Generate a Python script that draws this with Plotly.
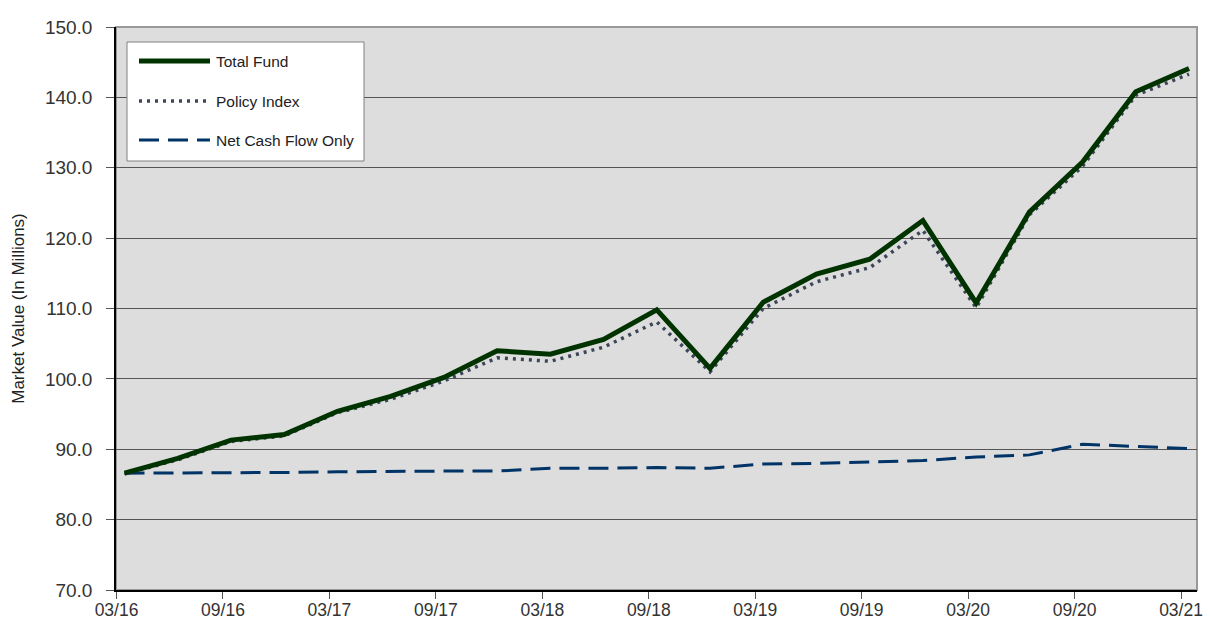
import plotly.graph_objects as go

quarters = ["03/16", "06/16", "09/16", "12/16", "03/17", "06/17", "09/17", "12/17",
            "03/18", "06/18", "09/18", "12/18", "03/19", "06/19", "09/19", "12/19",
            "03/20", "06/20", "09/20", "12/20", "03/21"]

total_fund = [86.6, 88.7, 91.3, 92.1, 95.4, 97.5, 100.2, 104.0, 103.5, 105.6, 109.8,
              101.5, 110.9, 114.9, 117.0, 122.5, 110.8, 123.7, 130.8, 140.8, 144.1]
policy_index = [86.5, 88.5, 91.1, 91.9, 95.2, 97.1, 99.7, 103.0, 102.5, 104.5, 108.1,
                101.0, 110.0, 113.8, 115.8, 121.1, 110.1, 123.3, 130.2, 140.3, 143.3]
net_cash_flow = [86.6, 86.6, 86.7, 86.7, 86.8, 86.9, 86.9, 86.9, 87.3, 87.3, 87.4,
                 87.3, 87.9, 88.0, 88.2, 88.4, 88.9, 89.2, 90.7, 90.4, 90.1]

series_names = ["Total Fund", "Policy Index", "Net Cash Flow Only"]

FONT = "Liberation Sans, Arial, sans-serif"

x = list(range(len(quarters)))
fig = go.Figure()

fig.add_trace(go.Scatter(x=x, y=net_cash_flow, mode="lines", name=series_names[2],
                         line=dict(color="#003366", width=3, dash="20px,9px"),
                         showlegend=False))
fig.add_trace(go.Scatter(x=x, y=policy_index, mode="lines", name=series_names[1],
                         line=dict(color="#3C4658", width=3.5, dash="3px,5px"),
                         showlegend=False))
fig.add_trace(go.Scatter(x=x, y=total_fund, mode="lines", name=series_names[0],
                         line=dict(color="#003300", width=5),
                         showlegend=False))

tick_off = 0.15
fig.update_xaxes(range=[-0.16, len(quarters) - 1 + 0.15],
                 automargin=False,
                 tickmode="array",
                 tickvals=[i - tick_off for i in x[::2]],
                 ticktext=quarters[::2],
                 ticklabelshift=0,
                 ticklabelstandoff=-4,
                 ticklabeloverflow="allow",
                 ticks="outside", ticklen=7, tickcolor="#555555",
                 showgrid=False, zeroline=False,
                 showline=True, linecolor="#000000", linewidth=1.5,
                 tickfont=dict(family=FONT, size=17.5, color="#333333"))
fig.update_yaxes(range=[70, 150], dtick=10, tickformat=".1f",
                 automargin=False,
                 ticks="outside", ticklen=8, tickcolor="#555555",
                 ticklabelstandoff=10,
                 showgrid=True, gridcolor="#555555", gridwidth=1,
                 zeroline=False,
                 showline=True, linecolor="#000000", linewidth=1.5,
                 tickfont=dict(family=FONT, size=19, color="#333333"),
                 title=dict(text="Market Value (In Millions)", standoff=16,
                            font=dict(family=FONT, size=17, color="#222222")))

# plot border (top/right grey)
shapes = [dict(type="rect", xref="paper", yref="paper", x0=0, x1=1, y0=0, y1=1,
               line=dict(color="#999999", width=2), layer="below")]

# custom legend (positions measured in page pixels, converted to paper coords)
L, R, T, B = 116, 1197, 27, 590
def px(v):
    return (v - L) / (R - L)
def py(v):
    return (B - v) / (B - T)

shapes.append(dict(type="rect", xref="paper", yref="paper",
                   x0=px(127), x1=px(364), y0=py(161), y1=py(42),
                   fillcolor="#FFFFFF", line=dict(color="#808080", width=1)))
legend_styles = [dict(color="#003300", width=5),
                 dict(color="#3C4658", width=3.5, dash="3px,5px"),
                 dict(color="#003366", width=3, dash="20px,9px")]
legend_y = [61, 101, 140]
annotations = []
for name, st, yy in zip(series_names, legend_styles, legend_y):
    shapes.append(dict(type="line", xref="paper", yref="paper",
                       x0=px(139), x1=px(210), y0=py(yy), y1=py(yy), line=st))
    annotations.append(dict(xref="paper", yref="paper", x=px(214), y=py(yy),
                            text=name, showarrow=False, xanchor="left", yanchor="middle",
                            font=dict(family=FONT, size=15.5, color="#222222")))

# page body has an 8px default margin: size the figure so the page does not overflow
fig.update_layout(width=1196, height=612,
                  margin=dict(l=108, r=7, t=19, b=30),
                  plot_bgcolor="#DDDDDD", paper_bgcolor="#FFFFFF",
                  shapes=shapes, annotations=annotations,
                  showlegend=False)

fig.write_html("out.html")
